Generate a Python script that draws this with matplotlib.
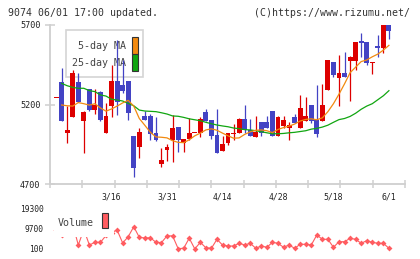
import numpy as np
import matplotlib
matplotlib.use("Agg")
import matplotlib.pyplot as plt
from matplotlib.patches import Rectangle
from matplotlib.transforms import blended_transform_factory

# ---------------- data ----------------
opens = [5245, 5339, 5020, 5123, 5343, 5098, 5296, 5165, 5281, 5019,
         5190, 5348, 5323, 5348, 5002, 4935, 5128, 5125, 5019, 4826,
         4914, 4977, 5057, 4956, 4981, 5025, 5023, 5155, 5103, 5008,
         4910, 4960, 5015, 5023, 5109, 5040, 4997, 5088, 5088, 5159,
         5004, 5065, 5050, 5119, 5054, 5098, 5197, 5103, 5098, 5291,
         5467, 5368, 5400, 5475, 5475, 5601, 5591, 5463, 5568, 5557,
         5700]
highs = [5245, 5428, 5190, 5417, 5396, 5160, 5300, 5297, 5285, 5209,
         5448, 5605, 5480, 5350, 5005, 5050, 5160, 5140, 5123, 4926,
         4951, 5134, 5060, 4985, 5113, 5025, 5123, 5172, 5105, 5172,
         5002, 5020, 5077, 5112, 5197, 5109, 5128, 5090, 5128, 5160,
         5125, 5128, 5092, 5140, 5260, 5245, 5200, 5323, 5329, 5482,
         5470, 5511, 5530, 5502, 5595, 5648, 5595, 5468, 5637, 5700,
         5700]
lows = [5245, 5098, 4958, 5123, 5218, 4897, 5160, 5138, 5095, 5019,
        5123, 5134, 5272, 5103, 4746, 4862, 5100, 4977, 4970, 4809,
        4846, 4840, 4903, 4903, 4975, 5025, 4994, 5095, 4983, 4897,
        4905, 4945, 4977, 5020, 5019, 5000, 4995, 5004, 5050, 5000,
        5000, 5050, 4977, 5085, 5050, 5095, 5085, 4997, 5095, 5290,
        5371, 5190, 5370, 5224, 5417, 5497, 5448, 5390, 5497, 5526,
        5610]
closes = [5245, 5098, 5040, 5396, 5218, 5155, 5165, 5197, 5103, 5128,
          5348, 5218, 5285, 5148, 4799, 5029, 5103, 5014, 4977, 4851,
          4935, 5050, 4977, 4981, 5019, 5025, 5109, 5098, 5004, 4897,
          4951, 5019, 5019, 5109, 5040, 5004, 5029, 5019, 5054, 5004,
          5123, 5103, 5071, 5085, 5178, 5128, 5098, 5014, 5197, 5480,
          5386, 5400, 5375, 5499, 5591, 5589, 5463, 5466, 5555, 5700,
          5664]
ma5 = [np.nan, 5197, 5192, 5190, 5212, 5205, 5196, 5205, 5178, 5158,
       5172, 5190, 5210, 5226, 5190, 5112, 5069, 5025, 4996, 4994,
       4990, 4972, 4962, 4960, 4978, 5003, 5020, 5040, 5047, 5038,
       5020, 5003, 4988, 4990, 5012, 5028, 5038, 5040, 5035, 5023,
       5043, 5055, 5064, 5077, 5096, 5106, 5110, 5104, 5116, 5155,
       5205, 5265, 5330, 5400, 5435, 5470, 5480, 5500, 5517, 5542,
       5572]
ma25 = [np.nan, 5333, 5318, 5308, 5302, 5302, 5287, 5281, 5260, 5253,
        5233, 5228, 5222, 5207, 5192, 5165, 5159, 5157, 5155, 5148,
        5140, 5128, 5126, 5119, 5110, 5104, 5098, 5088, 5079, 5071,
        5065, 5060, 5052, 5048, 5042, 5040, 5035, 5029, 5022, 5016,
        5016, 5018, 5022, 5025, 5030, 5035, 5045, 5050, 5058, 5070,
        5088, 5105, 5112, 5125, 5145, 5170, 5190, 5205, 5230, 5255,
        5287]
volume = [9000, 6600, 11000, 12000, 2000, 9500, 2000, 3300, 3300, 6600,
          8000, 9200, 3000, 6000, 10800, 5700, 5400, 5500, 3300, 3200,
          6400, 6400, 300, 450, 5300, 150, 3300, 700, 450, 4750,
          2000, 1540, 1540, 2840, 2020, 2840, 440, 1540, 920, 3320,
          2840, 920, 2020, 440, 2360, 2360, 2020, 6820, 4760, 4760,
          920, 3600, 3600, 5240, 4760, 2840, 4080, 3320, 2840, 2840,
          440]
date_tick_idx = [10, 20, 30, 40, 50, 60]
date_tick_labels = ["3/16", "3/31", "4/14", "4/28", "5/18", "6/1"]
price_ticks = [4700, 5200, 5700]
vol_ticks = [100, 9700, 19300]
title_left = "9074 06/01 17:00 updated."
title_right = "(C)https://www.rizumu.net/"

# ---------------- style ----------------
W, H = 420, 259
MONO = "DejaVu Sans Mono"
UP = "#dd0000"
DOWN = "#4343c4"
GRID = "#cfcfcf"
TXT = "#333333"


def fx(px):
    return px / W


def fy(py):
    return 1 - py / H


fig = plt.figure(figsize=(W / 100, H / 100), dpi=100)
fig.patch.set_facecolor("white")

# main price axes
ax = fig.add_axes([fx(50), fy(184), fx(405) - fx(50), fy(25) - fy(184)])
ax.set_facecolor("none")
xlim = (-1.1, 62.9)
ax.set_xlim(*xlim)
ax.set_ylim(4700, 5700)
for s in ["top", "right"]:
    ax.spines[s].set_visible(False)
for s in ["left", "bottom"]:
    ax.spines[s].set_color(GRID)
    ax.spines[s].set_linewidth(1.3)
ax.set_yticks(price_ticks)
ax.set_yticklabels([str(v) for v in price_ticks], family=MONO, fontsize=6.1, color="#222222")
ax.tick_params(axis="y", direction="inout", length=6.5, width=1.1, color=GRID, pad=3.5)
ax.set_xticks(np.linspace(xlim[0], xlim[1], 12))
ax.set_xticklabels([])
ax.tick_params(axis="x", direction="inout", length=5.5, width=1.1, color=GRID)

idx = np.arange(len(closes))
for i in idx:
    o, c, hi, lo = opens[i], closes[i], highs[i], lows[i]
    col = UP if c >= o else DOWN
    ax.vlines(i, lo, hi, color=col, lw=0.9, zorder=3)
    h = max(abs(c - o), 7)
    b = min(o, c) if abs(c - o) >= 7 else (o + c) / 2 - 3.5
    ax.bar(i, h, bottom=b, width=0.88, color=col, lw=0, zorder=3.5)

ax.plot(idx, ma25, color="#11a611", lw=0.9, zorder=4)
ax.plot(idx, ma5, color="#f28a10", lw=0.9, zorder=4)

# main legend (beneath candles)
ax.add_patch(Rectangle((fx(66), fy(77)), fx(143) - fx(66), fy(30) - fy(77),
                       transform=fig.transFigure, facecolor="white",
                       edgecolor="#d4d4d4", lw=1.2, zorder=1, clip_on=False))
ax.text(fx(125.5), fy(46), "5-day MA", transform=fig.transFigure, ha="right",
        va="center", family=MONO, fontsize=7.2, color="#444444", zorder=1.5)
ax.text(fx(125.5), fy(63), "25-day MA", transform=fig.transFigure, ha="right",
        va="center", family=MONO, fontsize=7.2, color="#444444", zorder=1.5)
ax.add_patch(Rectangle((fx(131.5), fy(53.5)), fx(6), fy(0) - fy(16.5),
                       transform=fig.transFigure, facecolor="#f28a10",
                       edgecolor="#333333", lw=0.8, zorder=1.5, clip_on=False))
ax.add_patch(Rectangle((fx(131.5), fy(70.5)), fx(6), fy(0) - fy(16.5),
                       transform=fig.transFigure, facecolor="#11a611",
                       edgecolor="#333333", lw=0.8, zorder=1.5, clip_on=False))

# date labels between panels
tr = blended_transform_factory(ax.transData, fig.transFigure)
for i, lab in zip(date_tick_idx, date_tick_labels):
    ax.text(i, fy(197.5), lab, transform=tr, ha="center", va="center",
            family=MONO, fontsize=5.9, color="#222222", clip_on=False)

# volume axes
ax2 = fig.add_axes([fx(50), fy(249), fx(405) - fx(50), fy(209) - fy(249)])
ax2.set_facecolor("none")
ax2.set_xlim(*xlim)
ax2.set_ylim(100, 19300)
for s in ax2.spines.values():
    s.set_visible(False)
ax2.set_xticks([])
ax2.set_yticks(vol_ticks)
ax2.set_yticklabels([str(v) for v in vol_ticks], family=MONO, fontsize=5.7, color="#222222")
ax2.tick_params(axis="y", length=0, pad=4.5)
ax2.plot(idx, volume, color="#ff5c60", lw=0.8, marker="D", ms=3.0, mew=0,
         zorder=3, clip_on=False)

# volume legend with white background hiding line beneath
ax2.add_patch(Rectangle((fx(54), fy(237)), fx(114) - fx(54), fy(205) - fy(237),
                        transform=fig.transFigure, facecolor="white",
                        edgecolor="none", zorder=5, clip_on=False))
ax2.text(fx(58), fy(222.5), "Volume", transform=fig.transFigure, ha="left",
         va="center", family=MONO, fontsize=7.2, color="#444444", zorder=6)
ax2.add_patch(Rectangle((fx(101.5), fy(228)), fx(6.5), fy(0) - fy(15),
                        transform=fig.transFigure, facecolor="#ff5c60",
                        edgecolor="#333333", lw=0.8, zorder=6, clip_on=False))

# titles
fig.text(fx(8), fy(12.5), title_left, ha="left", va="center", family=MONO,
         fontsize=7.1, color=TXT)
fig.text(fx(410.5), fy(12.5), title_right, ha="right", va="center", family=MONO,
         fontsize=7.1, color=TXT)

fig.savefig("out.png", dpi=100)
